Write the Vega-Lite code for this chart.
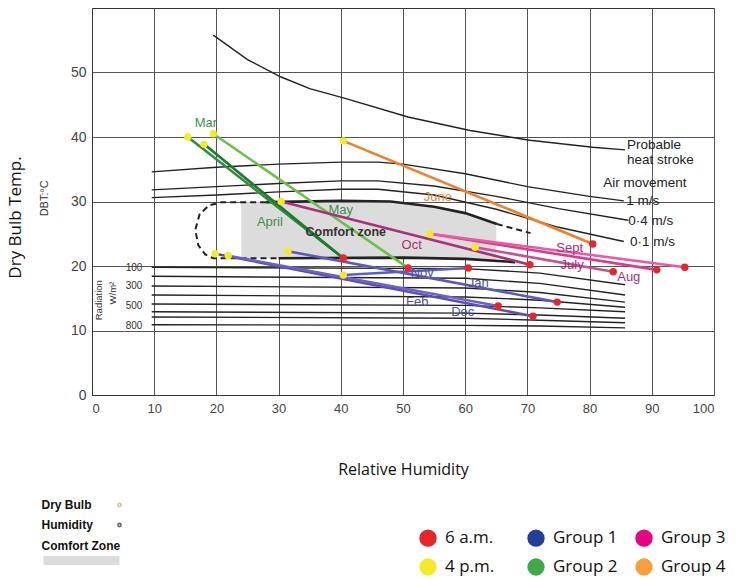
{
  "$schema": "https://vega.github.io/schema/vega-lite/v6.json",
  "width": 622,
  "height": 387,
  "autosize": {"type": "none"},
  "padding": {"left": 92, "top": 8, "right": 42, "bottom": 185},
  "background": "white",
  "datasets": {
    "obs": [
      {"month": "Mar", "group": "Group 2", "time": "4 p.m.", "rh": 15.4, "t": 40.0},
      {"month": "Mar", "group": "Group 2", "time": "6 a.m.", "rh": 40.4, "t": 21.2},
      {"month": "April", "group": "Group 2", "time": "4 p.m.", "rh": 18.0, "t": 38.9},
      {"month": "April", "group": "Group 2", "time": "6 a.m.", "rh": 40.4, "t": 21.2},
      {"month": "May", "group": "Group 2", "time": "4 p.m.", "rh": 19.5, "t": 40.5},
      {"month": "May", "group": "Group 2", "time": "6 a.m.", "rh": 50.8, "t": 19.7},
      {"month": "June", "group": "Group 4", "time": "4 p.m.", "rh": 40.4, "t": 39.4},
      {"month": "June", "group": "Group 4", "time": "6 a.m.", "rh": 80.5, "t": 23.4},
      {"month": "July", "group": "Group 3", "time": "4 p.m.", "rh": 54.3, "t": 25.0},
      {"month": "July", "group": "Group 3", "time": "6 a.m.", "rh": 90.8, "t": 19.4},
      {"month": "Aug", "group": "Group 3", "time": "4 p.m.", "rh": 61.6, "t": 22.9},
      {"month": "Aug", "group": "Group 3", "time": "6 a.m.", "rh": 83.8, "t": 19.1},
      {"month": "Sept", "group": "Group 3", "time": "4 p.m.", "rh": 54.3, "t": 25.0},
      {"month": "Sept", "group": "Group 3", "time": "6 a.m.", "rh": 95.3, "t": 19.8},
      {"month": "Oct", "group": "Group 3", "time": "4 p.m.", "rh": 30.4, "t": 30.0},
      {"month": "Oct", "group": "Group 3", "time": "6 a.m.", "rh": 70.4, "t": 20.2},
      {"month": "Nov", "group": "Group 1", "time": "4 p.m.", "rh": 40.4, "t": 18.6},
      {"month": "Nov", "group": "Group 1", "time": "6 a.m.", "rh": 60.5, "t": 19.7},
      {"month": "Dec", "group": "Group 1", "time": "4 p.m.", "rh": 19.8, "t": 21.9},
      {"month": "Dec", "group": "Group 1", "time": "6 a.m.", "rh": 70.9, "t": 12.2},
      {"month": "Jan", "group": "Group 1", "time": "4 p.m.", "rh": 31.5, "t": 22.3},
      {"month": "Jan", "group": "Group 1", "time": "6 a.m.", "rh": 74.8, "t": 14.4},
      {"month": "Feb", "group": "Group 1", "time": "4 p.m.", "rh": 21.9, "t": 21.6},
      {"month": "Feb", "group": "Group 1", "time": "6 a.m.", "rh": 65.3, "t": 13.8}
    ],
    "curves": [
      {"name": "heat", "rh": 19.5, "t": 55.8}, {"name": "heat", "rh": 25, "t": 52.0}, {"name": "heat", "rh": 30.4, "t": 49.3}, {"name": "heat", "rh": 35, "t": 47.5}, {"name": "heat", "rh": 40.7, "t": 46.0}, {"name": "heat", "rh": 50.8, "t": 43.1}, {"name": "heat", "rh": 60.8, "t": 41.0}, {"name": "heat", "rh": 70.4, "t": 39.5}, {"name": "heat", "rh": 80.5, "t": 38.4}, {"name": "heat", "rh": 85.7, "t": 38.0},
      {"name": "m1", "rh": 9.6, "t": 34.6}, {"name": "m1", "rh": 20, "t": 35.3}, {"name": "m1", "rh": 30, "t": 35.8}, {"name": "m1", "rh": 40, "t": 36.1}, {"name": "m1", "rh": 46, "t": 36.1}, {"name": "m1", "rh": 50, "t": 35.8}, {"name": "m1", "rh": 60, "t": 34.3}, {"name": "m1", "rh": 70, "t": 32.3}, {"name": "m1", "rh": 80, "t": 30.8}, {"name": "m1", "rh": 85.5, "t": 30.1},
      {"name": "m04", "rh": 9.6, "t": 31.8}, {"name": "m04", "rh": 20, "t": 32.3}, {"name": "m04", "rh": 30, "t": 32.8}, {"name": "m04", "rh": 40, "t": 33.2}, {"name": "m04", "rh": 46, "t": 33.2}, {"name": "m04", "rh": 55, "t": 32.4}, {"name": "m04", "rh": 65, "t": 30.8}, {"name": "m04", "rh": 75, "t": 28.9}, {"name": "m04", "rh": 86.2, "t": 27.1},
      {"name": "m01", "rh": 9.6, "t": 30.6}, {"name": "m01", "rh": 20, "t": 31.0}, {"name": "m01", "rh": 30, "t": 31.5}, {"name": "m01", "rh": 40, "t": 31.9}, {"name": "m01", "rh": 46, "t": 31.9}, {"name": "m01", "rh": 55, "t": 31.0}, {"name": "m01", "rh": 65, "t": 28.8}, {"name": "m01", "rh": 75, "t": 26.0}, {"name": "m01", "rh": 85.5, "t": 23.8},
      {"name": "r100", "rh": 9.6, "t": 19.8}, {"name": "r100", "rh": 60, "t": 19.6}, {"name": "r100", "rh": 72, "t": 18.9}, {"name": "r100", "rh": 85.7, "t": 17.1},
      {"name": "r200", "rh": 9.6, "t": 18.4}, {"name": "r200", "rh": 60, "t": 18.1}, {"name": "r200", "rh": 72, "t": 17.3}, {"name": "r200", "rh": 85.7, "t": 15.5},
      {"name": "r300", "rh": 9.6, "t": 16.9}, {"name": "r300", "rh": 60, "t": 16.6}, {"name": "r300", "rh": 72, "t": 15.9}, {"name": "r300", "rh": 85.7, "t": 14.4},
      {"name": "r400", "rh": 9.6, "t": 15.5}, {"name": "r400", "rh": 60, "t": 15.2}, {"name": "r400", "rh": 72, "t": 14.7}, {"name": "r400", "rh": 85.7, "t": 13.6},
      {"name": "r500", "rh": 9.6, "t": 14.1}, {"name": "r500", "rh": 60, "t": 13.9}, {"name": "r500", "rh": 72, "t": 13.5}, {"name": "r500", "rh": 85.7, "t": 12.9},
      {"name": "r600", "rh": 9.6, "t": 12.9}, {"name": "r600", "rh": 60, "t": 12.7}, {"name": "r600", "rh": 72, "t": 12.4}, {"name": "r600", "rh": 85.7, "t": 11.9},
      {"name": "r700", "rh": 9.6, "t": 12.1}, {"name": "r700", "rh": 60, "t": 11.9}, {"name": "r700", "rh": 72, "t": 11.6}, {"name": "r700", "rh": 85.7, "t": 11.2},
      {"name": "r800", "rh": 9.6, "t": 10.9}, {"name": "r800", "rh": 60, "t": 10.8}, {"name": "r800", "rh": 72, "t": 10.7}, {"name": "r800", "rh": 85.7, "t": 10.4}
    ],
    "comfortSolid": [
      {"part": "top", "rh": 28, "t": 29.9}, {"part": "top", "rh": 40, "t": 30.1}, {"part": "top", "rh": 48, "t": 30.0}, {"part": "top", "rh": 55, "t": 29.2}, {"part": "top", "rh": 60, "t": 28.2}, {"part": "top", "rh": 65.1, "t": 26.5},
      {"part": "bottom", "rh": 30, "t": 21.2}, {"part": "bottom", "rh": 50, "t": 21.3}, {"part": "bottom", "rh": 60, "t": 21.1}, {"part": "bottom", "rh": 68, "t": 20.6}
    ],
    "comfortDashed": [
      {"part": "left", "rh": 28, "t": 29.9}, {"part": "left", "rh": 20.9, "t": 29.9}, {"part": "left", "rh": 18.8, "t": 29.4}, {"part": "left", "rh": 17.3, "t": 28.0}, {"part": "left", "rh": 16.6, "t": 25.6}, {"part": "left", "rh": 17.1, "t": 23.2}, {"part": "left", "rh": 18.2, "t": 21.8}, {"part": "left", "rh": 19.5, "t": 21.2}, {"part": "left", "rh": 30, "t": 21.2},
      {"part": "right", "rh": 65.1, "t": 26.5}, {"part": "right", "rh": 70.5, "t": 25.1}
    ],
    "comfortArea": [
      {"zone": "Comfort Zone", "rh": 24, "t": 29.9, "t2": 21.2},
      {"zone": "Comfort Zone", "rh": 28, "t": 29.9, "t2": 21.2},
      {"zone": "Comfort Zone", "rh": 40, "t": 30.1, "t2": 21.3},
      {"zone": "Comfort Zone", "rh": 48, "t": 30.0, "t2": 21.3},
      {"zone": "Comfort Zone", "rh": 55, "t": 29.2, "t2": 21.3},
      {"zone": "Comfort Zone", "rh": 60, "t": 28.2, "t2": 21.2},
      {"zone": "Comfort Zone", "rh": 65, "t": 26.5, "t2": 21.0}
    ],
    "monthLabels": [
      {"label": "Mar", "group": "Group 2", "rh": 18.3, "t": 42.2},
      {"label": "April", "group": "Group 2", "rh": 28.6, "t": 26.8},
      {"label": "May", "group": "Group 2", "rh": 40.0, "t": 28.7},
      {"label": "June", "group": "Group 4", "rh": 55.6, "t": 30.7},
      {"label": "Oct", "group": "Group 3", "rh": 51.4, "t": 23.3},
      {"label": "Sept", "group": "Group 3", "rh": 76.8, "t": 22.8},
      {"label": "July", "group": "Group 3", "rh": 77.2, "t": 20.2},
      {"label": "Aug", "group": "Group 3", "rh": 86.3, "t": 18.3},
      {"label": "Nov", "group": "Group 1", "rh": 53.1, "t": 18.9},
      {"label": "Jan", "group": "Group 1", "rh": 62.1, "t": 17.4},
      {"label": "Feb", "group": "Group 1", "rh": 52.3, "t": 14.4},
      {"label": "Dec", "group": "Group 1", "rh": 59.6, "t": 12.9}
    ],
    "notes": [
      {"label": "Probable", "rh": 86.0, "t": 38.8},
      {"label": "heat stroke", "rh": 86.0, "t": 36.5},
      {"label": "Air movement", "rh": 82.2, "t": 32.9},
      {"label": "1  m/s", "rh": 85.9, "t": 30.1},
      {"label": "0·4 m/s", "rh": 86.2, "t": 27.0},
      {"label": "0·1 m/s", "rh": 86.5, "t": 23.7}
    ],
    "zoneLabel": [{"label": "Comfort zone", "rh": 40.8, "t": 25.3}],
    "radLabels": [
      {"label": "100", "rh": 6.75, "t": 19.7},
      {"label": "300", "rh": 6.75, "t": 16.9},
      {"label": "500", "rh": 6.75, "t": 13.8},
      {"label": "800", "rh": 6.75, "t": 10.7}
    ],
    "radTitle": [
      {"label": "Radiation", "rh": 1.1, "t": 14.7},
      {"label": "W/m²", "rh": 3.4, "t": 15.8}
    ],
    "unitLabel": [{"label": "DBT:°C", "rh": -7.56, "t": 30.5}]
  },
  "encoding": {
    "x": {
      "field": "rh", "type": "quantitative",
      "scale": {"domain": [0, 100], "nice": false, "zero": false},
      "axis": {
        "title": "Relative Humidity", "values": [0, 10, 20, 30, 40, 50, 60, 70, 80, 90, 100],
        "grid": true, "labelPadding": 7, "labelFontSize": 13, "titleFontSize": 16, "titlePadding": 46
      }
    },
    "y": {
      "field": "t", "type": "quantitative",
      "scale": {"domain": [0, 60], "nice": false, "zero": false},
      "axis": {
        "title": "Dry Bulb Temp.", "values": [0, 10, 20, 30, 40, 50],
        "grid": true, "labelPadding": 6, "labelFontSize": 14, "titleFontSize": 17,
        "titleX": -77, "titleY": 209, "titleBaseline": "middle", "titleAngle": 270
      }
    }
  },
  "layer": [
    {
      "data": {"name": "comfortArea"},
      "mark": {"type": "area", "opacity": 1},
      "encoding": {
        "y2": {"field": "t2"},
        "fill": {
          "field": "zone", "type": "nominal",
          "scale": {
            "domain": ["Comfort Zone", "Group 1", "Group 2", "Group 3", "Group 4"],
            "range": ["#dcdcdc", "#4a4fa8", "#3e8f48", "#a8307a", "#e8823a"]
          },
          "legend": {
            "title": null, "orient": "none", "legendX": -50, "legendY": 532, "values": ["Comfort Zone"],
            "symbolType": "M-30.4,4H0V7.6H-30.4Z", "symbolSize": 25, "symbolStrokeWidth": 0,
            "symbolOffset": 71.5, "labelOffset": -84,
            "labelFont": "Liberation Sans Narrow, Liberation Sans", "labelFontWeight": "bold", "labelFontSize": 12,
            "labelColor": "#111"
          }
        }
      }
    },
    {
      "data": {"name": "curves"},
      "mark": {"type": "line", "color": "#222", "strokeWidth": 1.4},
      "encoding": {"detail": {"field": "name"}, "order": {"value": null}}
    },
    {
      "data": {"name": "comfortSolid"},
      "mark": {"type": "line", "color": "#222", "strokeWidth": 2.6},
      "encoding": {"detail": {"field": "part"}, "order": {"value": null}}
    },
    {
      "data": {"name": "comfortDashed"},
      "mark": {"type": "line", "color": "#222", "strokeWidth": 2, "strokeDash": [6, 4]},
      "encoding": {"detail": {"field": "part"}, "order": {"value": null}}
    },
    {
      "data": {"name": "obs"},
      "mark": {"type": "line", "strokeWidth": 2.6},
      "encoding": {
        "detail": {"field": "month"},
        "stroke": {
          "field": "month", "type": "nominal",
          "scale": {
            "domain": ["Mar", "April", "May", "June", "July", "Aug", "Sept", "Oct", "Nov", "Dec", "Jan", "Feb", "Dry Bulb", "Humidity"],
            "range": ["#2f8f3f", "#1f7a30", "#6cbf4a", "#f07f2a", "#d83c8c", "#c84f93", "#ec5aa6", "#a8307c", "#5b5fc0", "#5a4fb3", "#5f58bc", "#6a62c4", "#d8c870", "#5d6e5c"]
          },
          "legend": {
            "title": null, "orient": "none", "legendX": -50, "legendY": 491, "values": ["Dry Bulb", "Humidity"],
            "symbolType": "circle", "symbolSize": 10, "symbolStrokeWidth": 1.6, "symbolFillColor": "transparent",
            "symbolOffset": 71.5, "labelOffset": -84, "rowPadding": 8,
            "labelFont": "Liberation Sans Narrow, Liberation Sans", "labelFontWeight": "bold", "labelFontSize": 12,
            "labelColor": "#111"
          }
        }
      }
    },
    {
      "data": {"name": "obs"},
      "mark": {"type": "circle", "opacity": 1, "size": 55},
      "encoding": {
        "color": {
          "field": "time", "type": "nominal",
          "scale": {
            "domain": ["6 a.m.", "4 p.m.", "Group 1", "Group 2", "Group 3", "Group 4"],
            "range": ["#e5262a", "#f5ea2a", "#233f96", "#3daa47", "#e6047f", "#f7a03c"]
          },
          "legend": {
            "title": null, "orient": "none", "legendX": 327, "legendY": 521, "columns": 3, "gridAlign": "all",
            "symbolType": "circle", "symbolSize": 300, "symbolStrokeWidth": 0, "symbolOpacity": 1,
            "labelFont": "Open Sans", "labelFontSize": 17, "labelColor": "#111", "labelOffset": 8,
            "columnPadding": 17, "rowPadding": 11, "labelLimit": 200
          }
        }
      }
    },
    {
      "data": {"name": "monthLabels"},
      "mark": {"type": "text", "fontSize": 13, "font": "Liberation Sans"},
      "encoding": {"text": {"field": "label"}, "fill": {"field": "group", "type": "nominal", "legend": null}}
    },
    {
      "data": {"name": "notes"},
      "mark": {"type": "text", "align": "left", "baseline": "middle", "fontSize": 13.5, "color": "#222", "font": "Liberation Sans"},
      "encoding": {"text": {"field": "label"}}
    },
    {
      "data": {"name": "zoneLabel"},
      "mark": {"type": "text", "baseline": "middle", "fontSize": 12.5, "fontWeight": "bold", "color": "#333", "font": "Liberation Sans"},
      "encoding": {"text": {"field": "label"}}
    },
    {
      "data": {"name": "radLabels"},
      "mark": {"type": "text", "baseline": "middle", "fontSize": 10, "color": "#333", "font": "Liberation Sans"},
      "encoding": {"text": {"field": "label"}}
    },
    {
      "data": {"name": "radTitle"},
      "mark": {"type": "text", "baseline": "middle", "angle": 270, "fontSize": 9.5, "color": "#333", "font": "Liberation Sans"},
      "encoding": {"text": {"field": "label"}}
    },
    {
      "data": {"name": "unitLabel"},
      "mark": {"type": "text", "baseline": "middle", "angle": 270, "fontSize": 11, "color": "#333", "font": "Liberation Sans"},
      "encoding": {"text": {"field": "label"}}
    }
  ],
  "config": {
    "view": {"stroke": "#333", "strokeWidth": 1},
    "axis": {
      "gridColor": "#555", "gridOpacity": 1, "gridWidth": 1, "domainColor": "#333", "tickSize": 0,
      "labelFont": "Liberation Sans", "labelColor": "#444", "titleFont": "Open Sans", "titleFontWeight": "normal", "titleColor": "#111"
    }
  }
}
